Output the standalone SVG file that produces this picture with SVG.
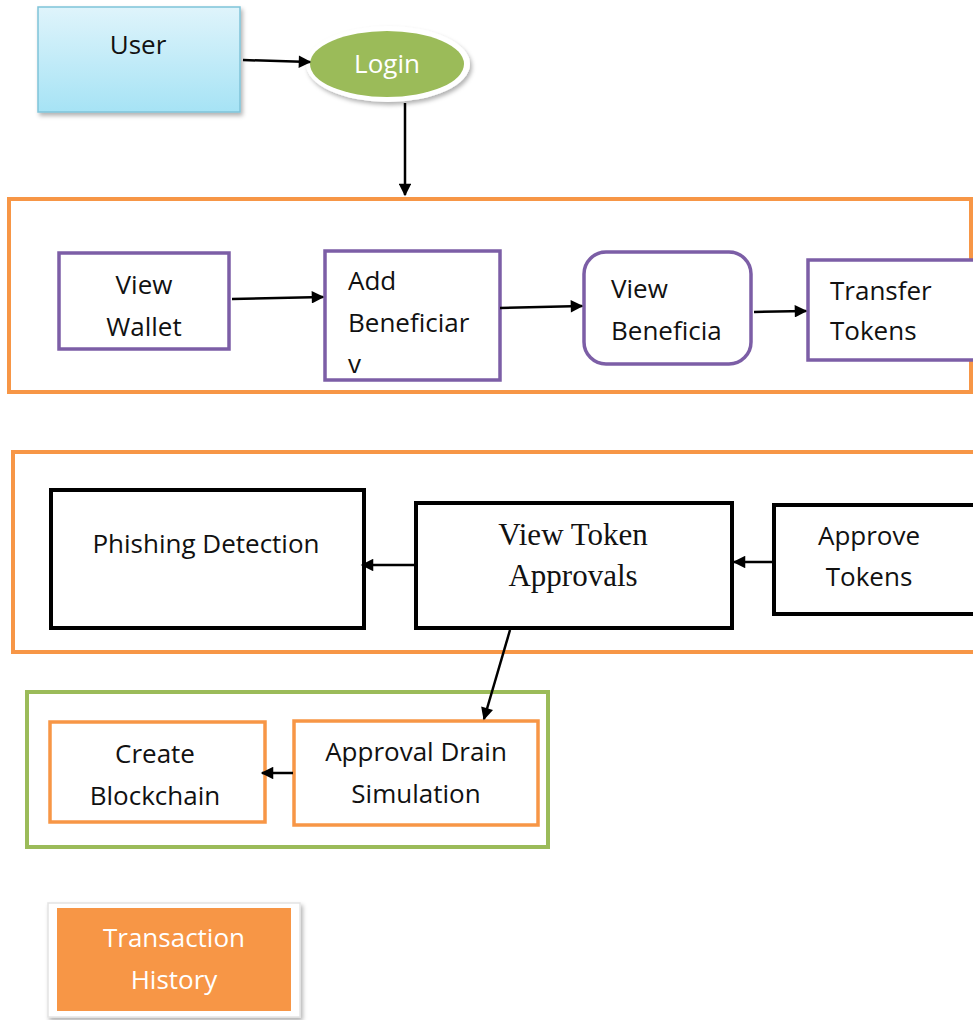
<svg xmlns="http://www.w3.org/2000/svg" width="973" height="1020" viewBox="0 0 973 1020">
<defs>
<linearGradient id="blueGrad" x1="0" y1="0" x2="0" y2="1">
<stop offset="0" stop-color="#dff4fb"/>
<stop offset="1" stop-color="#a6e3f5"/>
</linearGradient>
<filter id="shadow" x="-10%" y="-10%" width="130%" height="130%">
<feDropShadow dx="2" dy="3" stdDeviation="2" flood-color="#000" flood-opacity="0.3"/>
</filter>
<marker id="arrow" viewBox="0 0 10 10" refX="9" refY="5" markerWidth="5.5" markerHeight="5" orient="auto" markerUnits="strokeWidth">
<path d="M0,0 L10,5 L0,10 z" fill="#000"/>
</marker>
</defs>
<style>
text{font-family:"Open Sans","Liberation Sans",sans-serif;font-size:26px;fill:#111;}
.serif{font-family:"Liberation Serif",serif;font-size:31px;}
.white{fill:#fff;}
.container{fill:none;stroke:#F79646;stroke-width:4;}
.purple{fill:#fff;stroke:#7C5EA6;stroke-width:3.5;}
.black{fill:#fff;stroke:#000;stroke-width:4;}
.orangebox{fill:#fff;stroke:#F79646;stroke-width:3.5;}
.conn{stroke:#000;stroke-width:2.5;fill:none;marker-end:url(#arrow);}
</style>
<rect width="973" height="1020" fill="#fff"/>

<g id="containers">
<rect id="group-wallet" class="container" x="9" y="199" width="962" height="193"/>
<rect id="group-approvals" class="container" x="13" y="452" width="962" height="200"/>
<rect id="group-sim" x="27" y="692" width="521" height="155" fill="none" stroke="#9BBB59" stroke-width="4"/>
</g>

<g id="node-user">
<rect x="38" y="7" width="202" height="105" fill="url(#blueGrad)" stroke="#7fc3d9" stroke-width="1.5" filter="url(#shadow)"/>
<text x="138" y="54" text-anchor="middle">User</text>
</g>

<g id="node-login">
<ellipse cx="388" cy="64" rx="82" ry="38" fill="#fff" filter="url(#shadow)"/>
<ellipse cx="387" cy="64" rx="77" ry="33" fill="#9BBB59"/>
<text x="387" y="73" text-anchor="middle" class="white">Login</text>
</g>

<g id="node-view-wallet">
<rect class="purple" x="59" y="253" width="170" height="96"/>
<text x="144" y="294" text-anchor="middle">View</text>
<text x="144" y="336" text-anchor="middle">Wallet</text>
</g>

<g id="node-add-beneficiary">
<rect class="purple" x="325" y="251" width="175" height="129"/>
<text x="348" y="290">Add</text>
<text x="348" y="332">Beneficiar</text>
<text x="348" y="373">v</text>
</g>

<g id="node-view-beneficiary">
<rect class="purple" x="584" y="252" width="167" height="112" rx="22"/>
<text x="611" y="298">View</text>
<text x="611" y="340">Beneficia</text>
</g>

<g id="node-transfer-tokens">
<rect class="purple" x="808" y="260" width="175" height="100"/>
<text x="830" y="300">Transfer</text>
<text x="830" y="340">Tokens</text>
</g>

<g id="node-phishing">
<rect class="black" x="51" y="490" width="313" height="138"/>
<text x="206" y="553" text-anchor="middle">Phishing Detection</text>
</g>

<g id="node-view-token-approvals">
<rect class="black" x="416" y="503" width="316" height="125"/>
<text x="573" y="545" text-anchor="middle" class="serif">View Token</text>
<text x="573" y="586" text-anchor="middle" class="serif">Approvals</text>
</g>

<g id="node-approve-tokens">
<rect class="black" x="774" y="505" width="210" height="109"/>
<text x="869" y="545" text-anchor="middle">Approve</text>
<text x="869" y="586" text-anchor="middle">Tokens</text>
</g>

<g id="node-create-blockchain">
<rect class="orangebox" x="50" y="722" width="215" height="100"/>
<text x="155" y="763" text-anchor="middle">Create</text>
<text x="155" y="805" text-anchor="middle">Blockchain</text>
</g>

<g id="node-approval-drain">
<rect class="orangebox" x="294" y="721" width="244" height="104"/>
<text x="416" y="761" text-anchor="middle">Approval Drain</text>
<text x="416" y="803" text-anchor="middle">Simulation</text>
</g>

<g id="node-transaction-history">
<rect x="48" y="903" width="252" height="114" fill="#fff" stroke="#e4e4e4" stroke-width="1.5" filter="url(#shadow)"/>
<rect x="57" y="908" width="234" height="103" fill="#F79646"/>
<text x="174" y="947" text-anchor="middle" class="white">Transaction</text>
<text x="174" y="989" text-anchor="middle" class="white">History</text>
</g>

<g id="connectors">
<line class="conn" x1="243" y1="60" x2="310" y2="62"/>
<line class="conn" x1="405" y1="103" x2="405" y2="195"/>
<line class="conn" x1="232" y1="299" x2="323" y2="297"/>
<line class="conn" x1="500" y1="308" x2="582" y2="306"/>
<line class="conn" x1="754" y1="312" x2="806" y2="311"/>
<line class="conn" x1="416" y1="565" x2="362" y2="565"/>
<line class="conn" x1="773" y1="562" x2="734" y2="562"/>
<line class="conn" x1="510" y1="630" x2="484" y2="719"/>
<line class="conn" x1="293" y1="773" x2="262" y2="773"/>
</g>
</svg>
